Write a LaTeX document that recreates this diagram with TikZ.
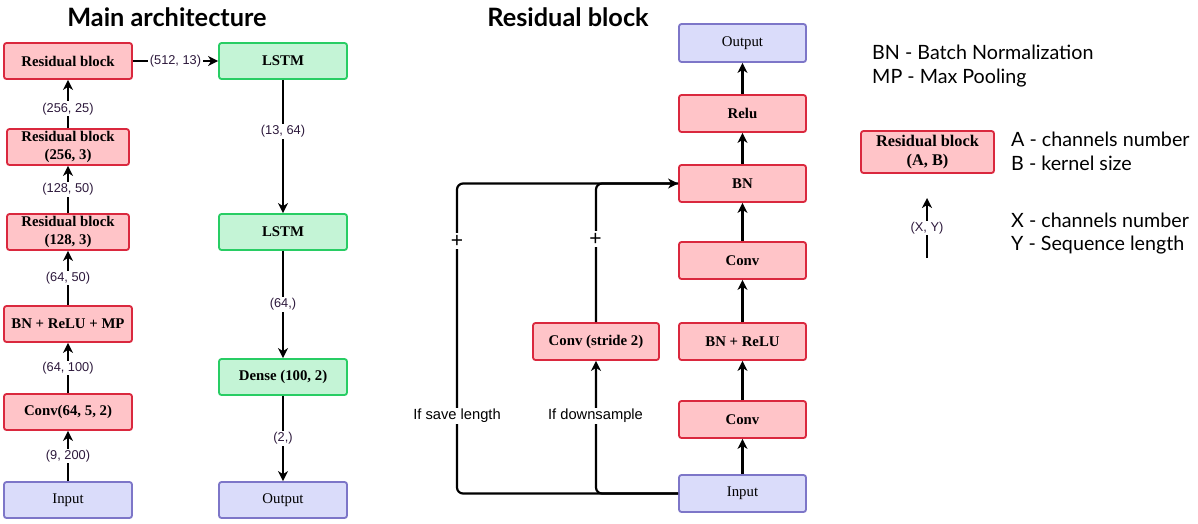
\documentclass[tikz,border=0pt]{standalone}
\usepackage{fontspec}
\setmainfont{Liberation Serif}
\setsansfont{Liberation Sans}
\newfontfamily\lato{Lato}
\usetikzlibrary{arrows.meta}
\definecolor{redD}{RGB}{218,40,62}
\definecolor{redF}{RGB}{255,196,200}
\definecolor{grnD}{RGB}{40,205,100}
\definecolor{grnF}{RGB}{196,244,214}
\definecolor{bluD}{RGB}{125,118,200}
\definecolor{bluF}{RGB}{218,220,250}
\definecolor{lblc}{RGB}{45,25,60}
\begin{document}
\begin{tikzpicture}[x=1pt,y=-1pt,
  base/.style={line width=1.8pt, rounded corners=2.5pt, minimum width=128pt, minimum height=36pt, inner sep=0pt, align=center, text=black},
  blk/.style={base, draw=redD, fill=redF, font=\fontsize{14.8}{18.5}\selectfont\bfseries},
  grn/.style={base, draw=grnD, fill=grnF, font=\fontsize{14.8}{18.5}\selectfont\bfseries},
  blu/.style={base, draw=bluD, fill=bluF, font=\fontsize{14.8}{18.5}\selectfont},
  arr/.style={line width=2.2pt, -{Stealth[length=10pt,width=10pt,inset=3pt]}},
  ln/.style={line width=2.2pt},
  lbl/.style={fill=white, inner sep=1.5pt, font=\sffamily\fontsize{12.8}{15}\selectfont, text=lblc},
  cond/.style={fill=white, inner sep=1.5pt, font=\sffamily\fontsize{14.7}{17}\selectfont, text=black},
  plus/.style={fill=white, inner sep=2pt, font=\sffamily\fontsize{21}{23}\selectfont, text=black},
  ttl/.style={anchor=base, inner sep=0pt, font=\lato\bfseries\fontsize{25.3}{30}\selectfont},
  leg/.style={anchor=base west, inner sep=0pt, font=\lato\fontsize{19.7}{23}\selectfont}
]
\useasboundingbox (0,0) rectangle (1198,523);

% titles
\node[ttl] (t1) at (167,26) {Main architecture};
\node[ttl] (t2) at (568,26) {Residual block};

% main architecture
\node[blk] (r1) at (68,61) {Residual block};
\node[blk, minimum width=122pt] (r2) at (68,147) {Residual block\\(256, 3)};
\node[blk, minimum width=122pt] (r3) at (68,232) {Residual block\\(128, 3)};
\node[blk] (bn) at (68,324) {BN + ReLU + MP};
\node[blk] (cv) at (68,412) {Conv(64, 5, 2)};
\node[blu] (in) at (68,500) {Input};
\node[grn] (l1) at (283,61) {LSTM};
\node[grn] (l2) at (283,232) {LSTM};
\node[grn] (de) at (283,377) {Dense (100, 2)};
\node[blu] (out) at (283,500) {Output};

\draw[arr] (in) -- node[lbl]{(9, 200)} (cv);
\draw[arr] (cv) -- node[lbl]{(64, 100)} (bn);
\draw[arr] (bn) -- node[lbl]{(64, 50)} (r3);
\draw[arr] (r3) -- node[lbl]{(128, 50)} (r2);
\draw[arr] (r2) -- node[lbl, pos=0.4]{(256, 25)} (r1);
\draw[arr] (r1) -- node[lbl]{(512, 13)} (l1);
\draw[arr] (l1) -- node[lbl, pos=0.385]{(13, 64)} (l2);
\draw[arr] (l2) -- node[lbl]{(64,)} (de);
\draw[arr] (de) -- node[lbl]{(2,)} (out);

% residual block
\node[blu, minimum width=127pt, minimum height=38pt] (ro) at (742.5,43) {Output};
\node[blk, minimum width=127pt, minimum height=37pt] (rrelu) at (742.5,113.5) {Relu};
\node[blk, minimum width=127pt, minimum height=37pt] (rbn) at (742.5,183.5) {BN};
\node[blk, minimum width=127pt, minimum height=37pt] (rc2) at (742.5,260.5) {Conv};
\node[blk, minimum width=127pt, minimum height=37pt] (rbr) at (742.5,341.5) {BN + ReLU};
\node[blk, minimum width=127pt, minimum height=37pt] (rc1) at (742.5,419.5) {Conv};
\node[blu, minimum width=127pt, minimum height=37pt] (rin) at (742.5,493.5) {Input};
\node[blk, minimum width=126pt, minimum height=37pt] (csd) at (596,341.5) {Conv (stride 2)};

\draw[arr] (rin) -- (rc1);
\draw[arr] (rc1) -- (rbr);
\draw[arr] (rbr) -- (rc2);
\draw[arr] (rc2) -- (rbn);
\draw[arr] (rbn) -- (rrelu);
\draw[arr] (rrelu) -- (ro);

\coordinate (sl) at (457,493.5);
\draw[ln, rounded corners=6pt] (csd.north) |- (rbn.west);
\draw[arr, rounded corners=6pt] (rin.west) -| (csd.south);
\draw[arr, rounded corners=6pt] (rin.west) -- (sl) |- (rbn.west);

\node[plus] (p1) at (457,241) {+};
\node[plus] (p2) at (595.5,239) {+};
\node[cond] (c1) at (457,416) {If save length};
\node[cond] (c2) at (595.5,416) {If downsample};

% legend
\node[leg] (g1) at (872,59) {BN - Batch Normalization};
\node[leg] (g2) at (872,83) {MP - Max Pooling};
\node[blk, minimum width=133pt, minimum height=42pt, font=\fontsize{16.3}{19}\selectfont\bfseries] (gb) at (927.5,152) {Residual block\\(A, B)};
\node[leg] (g3) at (1011,146) {A - channels number};
\node[leg] (g4) at (1011,170) {B - kernel size};
\coordinate (xa) at (927,258);
\coordinate (xb) at (927,198);
\draw[arr] (xa) -- node[lbl]{(X, Y)} (xb);
\node[leg] (g5) at (1011,227) {X - channels number};
\node[leg] (g6) at (1011,250) {Y - Sequence length};
\end{tikzpicture}
\end{document}
